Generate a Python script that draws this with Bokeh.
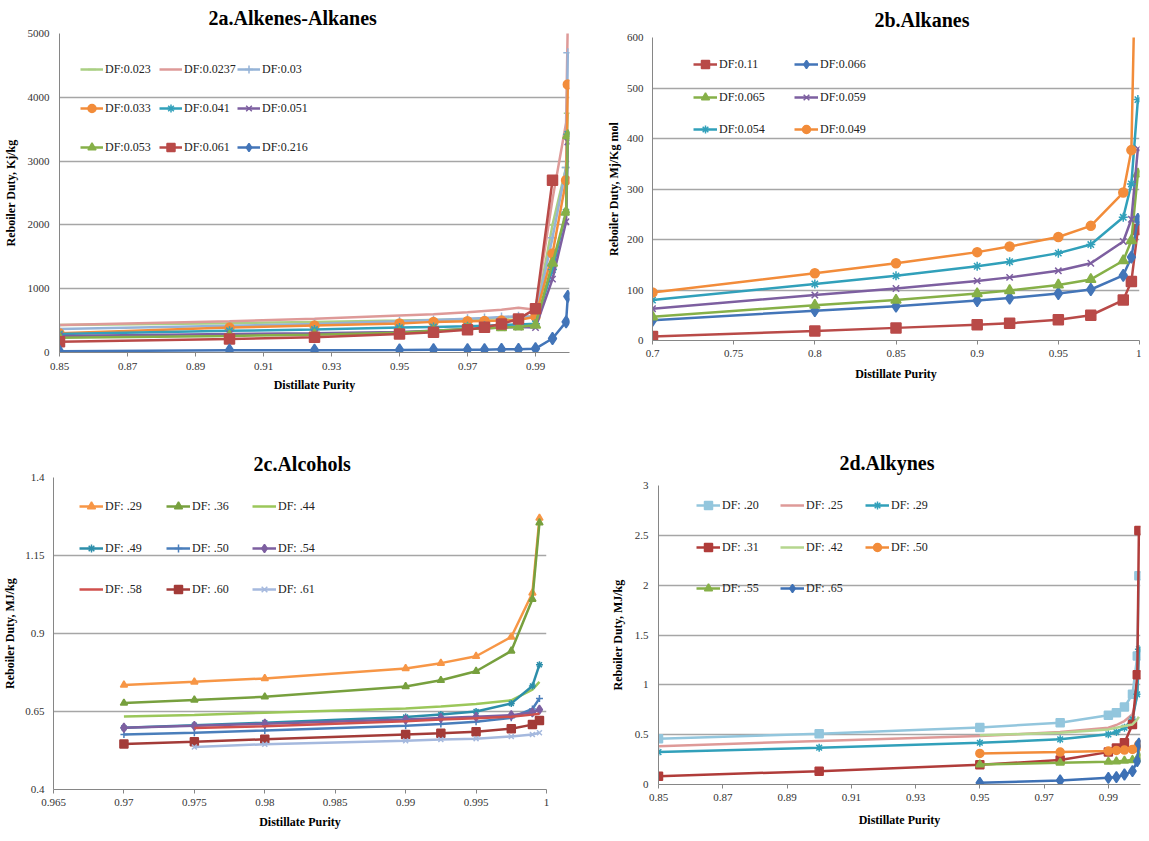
import numpy as np
from bokeh.plotting import figure
from bokeh.models import (Range1d, FixedTicker, Legend, LegendItem,
                          CustomJSTickFormatter)
from bokeh.core.properties import value
from bokeh.layouts import column, row
from bokeh.embed import file_html
from bokeh.resources import INLINE

nan = float("nan")
FONT = "Liberation Serif"

# ---------------- Panel 2a : Alkenes-Alkanes ----------------
a_x = [0.85, 0.9, 0.925, 0.95, 0.96, 0.97, 0.975, 0.98, 0.985, 0.99, 0.995, 0.999, 0.9995]
a_df0023 = [430, 460, 480, 500, 510, 520, 530, 540, 560, 560, 2000, 2900, 3750]
a_df00237 = [430, 490, 530, 580, 600, 630, 650, 670, 700, 670, 2400, 3600, 5200]
a_df003 = [370, 420, 445, 490, 510, 530, 540, 555, 570, 560, 1800, 2900, 4700]
a_df0033 = [300, 390, 425, 455, 480, 490, 495, 500, 510, 560, 1550, 2700, 4200]
a_df0041 = [290, 340, 360, 390, 400, 410, 420, 430, 440, 450, 1300, 2200, 3420]
a_df0051 = [260, 290, 300, 320, 340, 370, 380, 390, 400, 390, 1150, 2050, 3300]
a_df0053 = [230, 260, 280, 310, 340, 370, 375, 390, 400, 430, 1400, 2200, 3400]
a_df0061 = [170, 210, 240, 290, 316, 358, 395, 447, 526, 684, 2700, nan, nan]
a_df0216 = [20, 35, 35, 40, 45, 45, 45, 50, 50, 60, 220, 480, 880]
a_labels = ["DF:0.023", "DF:0.0237", "DF:0.03", "DF:0.033", "DF:0.041",
            "DF:0.051", "DF:0.053", "DF:0.061", "DF:0.216"]
a_xticks = [0.85, 0.87, 0.89, 0.91, 0.93, 0.95, 0.97, 0.99]
a_yticks = [0, 1000, 2000, 3000, 4000, 5000]

# ---------------- Panel 2b : Alkanes ----------------
b_x = [0.7, 0.8, 0.85, 0.9, 0.92, 0.95, 0.97, 0.99, 0.995, 0.999]
b_df011 = [8, 19, 25, 31, 34, 41, 50, 80, 117, 220]
b_df0066 = [40, 59, 68, 79, 84, 93, 101, 129, 165, 240]
b_df0065 = [47, 70, 80, 93, 99, 110, 121, 158, 198, 330]
b_df0059 = [63, 90, 103, 118, 125, 138, 153, 196, 240, 380]
b_df0054 = [80, 112, 128, 147, 156, 173, 190, 244, 310, 477]
b_df0049 = [95, 133, 153, 175, 186, 205, 227, 293, 377, 1000]
b_labels = ["DF:0.11", "DF:0.066", "DF:0.065", "DF:0.059", "DF:0.054", "DF:0.049"]
b_xticks = [0.7, 0.75, 0.8, 0.85, 0.9, 0.95, 1.0]
b_yticks = [0, 100, 200, 300, 400, 500, 600]

# ---------------- Panel 2c : Alcohols ----------------
c_x = [0.97, 0.975, 0.98, 0.99, 0.9925, 0.995, 0.9975, 0.999, 0.9995]
c_df29 = [0.735, 0.745, 0.756, 0.788, 0.805, 0.827, 0.889, 1.03, 1.27]
c_df36 = [0.677, 0.687, 0.697, 0.730, 0.750, 0.779, 0.844, 1.01, 1.255]
c_df44 = [0.634, 0.639, 0.646, 0.660, 0.666, 0.674, 0.686, 0.72, 0.745]
c_df49 = [0.598, 0.606, 0.614, 0.632, 0.640, 0.650, 0.676, 0.732, 0.80]
c_df50 = [0.576, 0.582, 0.589, 0.604, 0.610, 0.617, 0.630, 0.658, 0.692]
c_df54 = [0.598, 0.604, 0.611, 0.624, 0.629, 0.633, 0.638, 0.647, 0.656]
c_df58 = [nan, 0.597, 0.603, 0.619, 0.624, 0.628, 0.633, 0.640, 0.643]
c_df60 = [0.546, 0.553, 0.561, 0.576, 0.580, 0.585, 0.595, 0.608, 0.621]
c_df61 = [nan, 0.536, 0.545, 0.556, 0.560, 0.563, 0.570, 0.576, 0.582]
c_labels = ["DF: .29", "DF: .36", "DF: .44", "DF: .49", "DF: .50",
            "DF: .54", "DF: .58", "DF: .60", "DF: .61"]
c_xticks = [0.965, 0.97, 0.975, 0.98, 0.985, 0.99, 0.995, 1.0]
c_yticks = [0.4, 0.65, 0.9, 1.15, 1.4]

# ---------------- Panel 2d : Alkynes ----------------
d_x = [0.85, 0.9, 0.95, 0.975, 0.99, 0.9925, 0.995, 0.9975, 0.999, 0.9995]
d_df20 = [0.459, 0.51, 0.573, 0.62, 0.694, 0.72, 0.778, 0.905, 1.29, 2.095]
d_df25 = [0.385, 0.436, 0.486, 0.526, 0.57, 0.597, 0.637, 0.704, 0.888, 1.28]
d_df29 = [0.325, 0.369, 0.419, 0.453, 0.503, 0.526, 0.57, 0.654, 0.905, 1.358]
d_df31 = [0.084, 0.134, 0.198, 0.245, 0.325, 0.365, 0.419, 0.603, 1.10, 2.548]
d_df42 = [nan, nan, 0.493, 0.52, 0.553, 0.57, 0.587, 0.603, 0.654, 0.68]
d_df50 = [nan, nan, 0.312, 0.325, 0.335, 0.342, 0.345, 0.352, 0.369, 0.402]
d_df55 = [nan, nan, 0.201, 0.218, 0.228, 0.231, 0.238, 0.245, 0.251, 0.285]
d_df65 = [nan, nan, 0.017, 0.04, 0.067, 0.074, 0.10, 0.134, 0.235, 0.409]
d_labels = ["DF: .20", "DF: .25", "DF: .29", "DF: .31", "DF: .42",
            "DF: .50", "DF: .55", "DF: .65"]
d_xticks = [0.85, 0.87, 0.89, 0.91, 0.93, 0.95, 0.97, 0.99]
d_yticks = [0, 0.5, 1.0, 1.5, 2.0, 2.5, 3.0]

GRID = "#A6A6A6"
AXIS = "#868686"
TICKTXT = "#333333"

fmt_code = "return String(parseFloat(tick.toFixed(4)));"


def make_fig(w, h, xr, yr, bl, br, bt, bb, xticks, yticks,
             ylab, ylab_std, yl_std, xl_std, xlab_std,
             title, t_offset, t_standoff):
    p = figure(width=w, height=h, x_range=Range1d(*xr), y_range=Range1d(*yr),
               min_border_left=bl, min_border_right=br, min_border_top=bt,
               min_border_bottom=bb, output_backend="svg", toolbar_location=None,
               title=title)
    p.frame_align = False
    p.outline_line_color = None
    p.background_fill_color = "white"
    p.border_fill_color = "white"
    p.title.align = "left"
    p.title.offset = t_offset
    p.title.standoff = t_standoff
    p.title.vertical_align = "bottom"
    p.title.text_font = FONT
    p.title.text_font_size = "20px"
    p.title.text_font_style = "bold"
    p.title.text_color = "#000000"
    p.xaxis.ticker = FixedTicker(ticks=xticks)
    p.yaxis.ticker = FixedTicker(ticks=yticks)
    p.xaxis.formatter = CustomJSTickFormatter(code=fmt_code)
    p.yaxis.formatter = CustomJSTickFormatter(code=fmt_code)
    for ax in (p.xaxis[0], p.yaxis[0]):
        ax.axis_line_color = AXIS
        ax.axis_line_width = 1
        ax.major_tick_line_color = AXIS
        ax.minor_tick_line_color = None
        ax.major_tick_in = 0
        ax.major_label_text_font = FONT
        ax.major_label_text_font_size = "11px"
        ax.major_label_text_color = TICKTXT
        ax.axis_label_text_font = FONT
        ax.axis_label_text_font_size = "12px"
        ax.axis_label_text_font_style = "bold"
        ax.axis_label_text_color = "#000000"
    p.xaxis.major_tick_out = 4
    p.yaxis.major_tick_out = 0
    p.yaxis.major_label_standoff = yl_std
    p.yaxis.axis_label = ylab
    p.yaxis.axis_label_standoff = ylab_std
    p.xaxis.major_label_standoff = xl_std
    p.xaxis.axis_label = "Distillate Purity"
    p.xaxis.axis_label_standoff = xlab_std
    p.xgrid.grid_line_color = None
    p.ygrid.grid_line_color = GRID
    p.ygrid.grid_line_width = 1.4
    return p


def add_series(p, x, y, color, marker, size, lw=2.5):
    xs = np.array(x, dtype=float)
    ys = np.array(y, dtype=float)
    rs = [p.line(xs, ys, line_color=color, line_width=lw)]
    if marker:
        rs.append(p.scatter(xs, ys, marker=marker, size=size, fill_color=color,
                            line_color=color, line_width=1.5))
    return rs


def add_legend(p, label, renderers, lx, ly, gw=23):
    leg = Legend(items=[LegendItem(label=value(label), renderers=renderers)],
                 location=(lx, ly), orientation="vertical", padding=0, margin=0,
                 spacing=0, border_line_color=None, background_fill_alpha=0,
                 glyph_width=gw, glyph_height=20, label_height=20, label_standoff=2,
                 label_text_font=FONT, label_text_font_size="12px",
                 label_text_color="#222222")
    p.add_layout(leg)


# ---------- figure a ----------
pa = make_fig(572, 412, (0.85, 1.0), (0, 5000), 55, 3, 33, 60, a_xticks, a_yticks,
              "Reboiler Duty, Kj/kg", 7, 10, 6, 5,
              "2a.Alkenes-Alkanes", 149, 9)
a_series = [
    (a_df0023, "#AACF83", "dash", 8),
    (a_df00237, "#DE9A98", None, 0),
    (a_df003, "#95B3D7", "cross", 9),
    (a_df0033, "#F28C3A", "circle", 9),
    (a_df0041, "#31A0BA", "asterisk", 9),
    (a_df0051, "#7D5FA0", "x", 9),
    (a_df0053, "#86B048", "triangle", 10),
    (a_df0061, "#B94A48", "square", 10),
    (a_df0216, "#4375B8", "diamond", 12),
]
a_pos = [(21, 273), (100, 273), (178, 273),
         (21, 234), (100, 234), (178, 234),
         (21, 195), (100, 195), (178, 195)]
for (ys, col, mk, sz), lab, (lx, ly) in zip(a_series, a_labels, a_pos):
    rs = add_series(pa, a_x, ys, col, mk, sz)
    add_legend(pa, lab, rs, lx, ly)

# ---------- figure b ----------
pb = make_fig(569, 412, (0.7, 1.0), (0, 600), 80, 2, 37, 72, b_xticks, b_yticks,
              "Reboiler Duty, Mj/Kg mol", 3, 9, 5, 7,
              "2b.Alkanes", 222, 13)
b_series = [
    (b_df011, "#B94A48", "square", 10),
    (b_df0066, "#4375B8", "diamond", 12),
    (b_df0065, "#86B048", "triangle", 10),
    (b_df0059, "#7D5FA0", "x", 9),
    (b_df0054, "#31A0BA", "asterisk", 9),
    (b_df0049, "#F28C3A", "circle", 9),
]
b_pos = [(41, 266), (142, 266), (41, 233), (142, 233), (41, 201), (142, 201)]
for (ys, col, mk, sz), lab, (lx, ly) in zip(b_series, b_labels, b_pos):
    rs = add_series(pb, b_x, ys, col, mk, sz)
    add_legend(pb, lab, rs, lx, ly, gw=24)

# ---------- figure c ----------
pc = make_fig(572, 421, (0.965, 1.0), (0.4, 1.4), 49, 26, 65, 44, c_xticks, c_yticks,
              "Reboiler Duty, MJ/kg", 5, 9, 5, 6,
              "2c.Alcohols", 200, 6)
c_series = [
    (c_df29, "#F79646", "triangle", 7),
    (c_df36, "#77A03E", "triangle", 7),
    (c_df44, "#9BC75A", None, 0),
    (c_df49, "#2C8EAA", "asterisk", 7),
    (c_df50, "#4A7EBB", "cross", 7),
    (c_df54, "#7D5FA0", "diamond", 9),
    (c_df58, "#D0504D", None, 0),
    (c_df60, "#A33B38", "square", 8),
    (c_df61, "#A5B9DE", "x", 7),
]
c_pos = [(26, 273), (113, 273), (199, 273),
         (26, 231), (113, 231), (199, 231),
         (26, 190), (113, 190), (199, 190)]
for (ys, col, mk, sz), lab, (lx, ly) in zip(c_series, c_labels, c_pos):
    rs = add_series(pc, c_x, ys, col, mk, sz)
    add_legend(pc, lab, rs, lx, ly, gw=24)

# ---------- figure d ----------
pd_ = make_fig(569, 421, (0.85, 1.0), (0, 3), 86, 1, 73, 49, d_xticks, d_yticks,
               "Reboiler Duty, MJ/kg", 7, 10, 5, 9,
               "2d.Alkynes", 181, 24)
d_series = [
    (d_df20, "#93C6DD", "square", 8),
    (d_df25, "#DE9A98", None, 0),
    (d_df29, "#31A0BA", "asterisk", 8),
    (d_df31, "#B03C3A", "square", 8),
    (d_df42, "#B5D68E", None, 0),
    (d_df50, "#F28C3A", "circle", 8),
    (d_df55, "#86B048", "triangle", 8),
    (d_df65, "#3E71B5", "diamond", 11),
]
d_pos = [(38, 269), (122, 269), (207, 269),
         (38, 227), (122, 227), (207, 227),
         (38, 186), (122, 186)]
for (ys, col, mk, sz), lab, (lx, ly) in zip(d_series, d_labels, d_pos):
    rs = add_series(pd_, d_x, ys, col, mk, sz)
    add_legend(pd_, lab, rs, lx, ly, gw=24)

layout = column(row(pa, pb), row(pc, pd_))
open("out.html", "w").write(file_html(layout, INLINE))
